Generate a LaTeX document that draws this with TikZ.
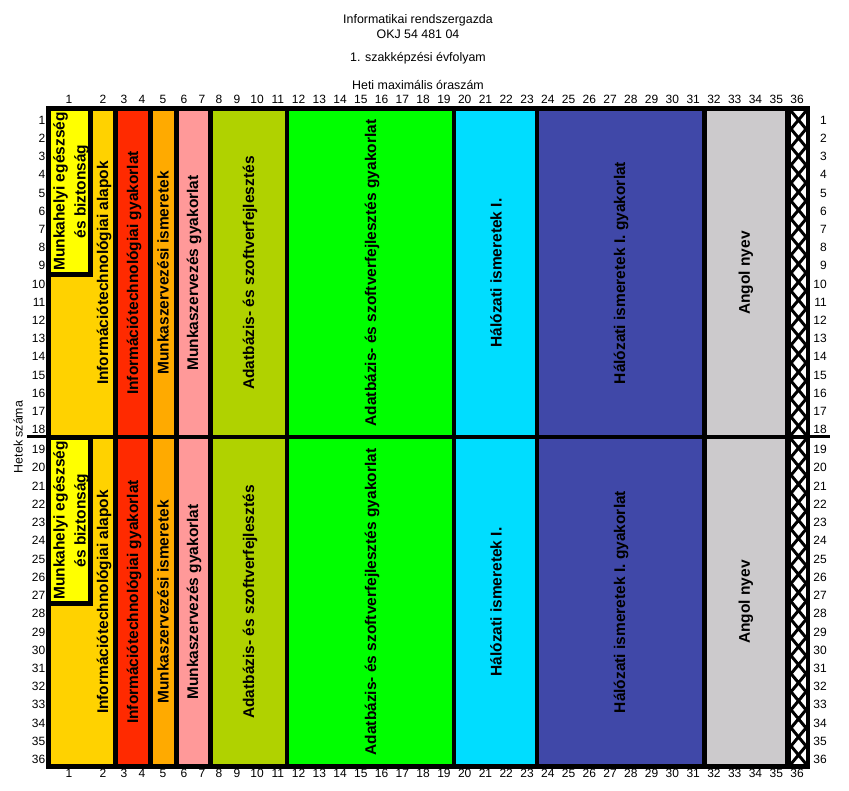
\documentclass[tikz,border=0pt]{standalone}
\usepackage{fontspec}
\setmainfont{Liberation Sans}
\usepackage{tikz}
\usetikzlibrary{arrows.meta, positioning}

\definecolor{boxyellow}{HTML}{FFFF00}
\definecolor{gold}{HTML}{FFD200}
\definecolor{itred}{HTML}{FF2A00}
\definecolor{mkorange}{HTML}{FFAA00}
\definecolor{mkpink}{HTML}{FF9999}
\definecolor{dbolive}{HTML}{B0D200}
\definecolor{dbgreen}{HTML}{00FF00}
\definecolor{netcyan}{HTML}{00DDFF}
\definecolor{netblue}{HTML}{4048A8}
\definecolor{engrey}{HTML}{CCCACC}

\tikzset{
  cim/.style={font=\fontsize{12.4}{15}\selectfont, inner sep=0pt, anchor=base},
  szam/.style={font=\fontsize{12}{14}\selectfont, inner sep=0pt, anchor=base},
  sorszam/.style={szam, anchor=base east},
  targy/.style={font=\fontsize{15.5}{21}\selectfont\bfseries, inner sep=0pt,
                rotate=90, align=center}
}

\begin{document}
\begin{tikzpicture}[x=1pt, y=-1pt]

\useasboundingbox (0,0) rectangle (849,791);

% 标题
\node[cim] (cim1) at (418,23.7) {Informatikai rendszergazda};
\node[cim] (okj) at (418,38.5) {OKJ 54 481 04};
\node[cim] (evf) at (418,61.7) {1. szakképzési évfolyam};
\node[cim] (heti) at (418,89.3) {Heti maximális óraszám};
\node[cim, rotate=90, anchor=center] (hetek) at (18,437) {Hetek száma};

% 分隔线
\draw[line width=3pt] (27,437) -- (830,437);

% 外框
\fill (46,106) rectangle (810,769);

% 色块
\foreach \ya/\yb in {111/435, 439/764} {
  \foreach \xa/\xb/\szin in {51/113/gold, 118/148/itred, 153/174/mkorange,
      179/208/mkpink, 213/285/dbolive, 289/452/dbgreen, 456/535/netcyan,
      539/702/netblue, 707/785/engrey, 791/806/white}
    \fill[\szin] (\xa,\ya) rectangle (\xb,\yb);
}

% 斜线格
\foreach \ya/\yb in {111/435, 439/764} {
  \begin{scope}
    \clip (791,\ya) rectangle (806,\yb);
    \foreach \i in {0,...,17} {
      \pgfmathsetmacro\yt{\ya+\i*(\yb-\ya)/18}
      \pgfmathsetmacro\yu{\ya+(\i+1)*(\yb-\ya)/18}
      \draw[line width=3pt] (791,\yt) -- (806,\yu) (806,\yt) -- (791,\yu);
    }
  \end{scope}
}

% 黄框
\foreach \ya/\yb in {106/277, 435/606} {
  \fill (46,\ya) rectangle (93,\yb);
  \fill[boxyellow] (51,\ya+5) rectangle (88,\yb-5);
}

% 科目
\foreach \yb/\yc/\h in {191.5/273/a, 520.5/602/b} {
  \node[targy] (munka\h) at (71,\yb) {Munkahelyi egészség\\és biztonság};
  \node[targy] (alap\h) at (104,\yc) {Információtechnológiai alapok};
  \node[targy] (itgy\h) at (134,\yc) {Információtechnológiai gyakorlat};
  \node[targy] (mkism\h) at (163,\yc) {Munkaszervezési ismeretek};
  \node[targy] (mkgy\h) at (194,\yc) {Munkaszervezés gyakorlat};
  \node[targy] (adat\h) at (250,\yc) {Adatbázis- és szoftverfejlesztés};
  \node[targy] (adatgy\h) at (372,\yc) {Adatbázis- és szoftverfejlesztés gyakorlat};
  \node[targy] (halo\h) at (496,\yc) {Hálózati ismeretek I.};
  \node[targy] (halogy\h) at (621,\yc) {Hálózati ismeretek I. gyakorlat};
  \node[targy] (angol\h) at (746,\yc) {Angol nyev};
}

% 列号
\foreach \n/\x in {1/69, 2/103, 3/124, 4/142, 5/163, 6/184, 7/202, 8/219, 9/237} {
  \node[szam] (fent\n) at (\x,104) {\n};
  \node[szam] (lent\n) at (\x,777) {\n};
}
\foreach \n in {10,...,36} {
  \pgfmathsetmacro\x{257+(\n-10)*20.77}
  \node[szam] (fent\n) at (\x,104) {\n};
  \node[szam] (lent\n) at (\x,777) {\n};
}

% 行号
\foreach \n in {1,...,36} {
  \pgfmathsetmacro\y{\n<19 ? 124.3+(\n-1)*18.2 : 453.6+(\n-19)*18.24}
  \node[sorszam] (bal\n) at (45.5,\y) {\n};
  \node[sorszam] (jobb\n) at (827,\y) {\n};
}

\end{tikzpicture}
\end{document}
